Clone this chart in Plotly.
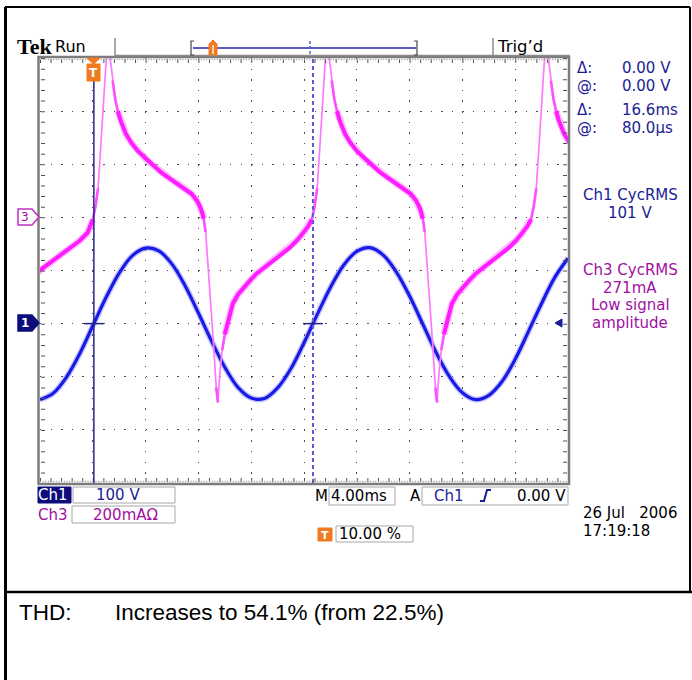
import plotly.graph_objects as go

W, H = 692, 680
X0, X1, Y0, Y1 = 40, 568, 58, 483          # graticule in pixels

def px(x):
    return x / W

def py(y):
    return 1 - y / H

# ---------------- data (read from the screen) ----------------
# time in ms (trigger = 0, 4 ms/div, 10 % pretrigger)
time_v = [-4, -3, -2, -1, 0, 1, 2, 3, 4, 5, 6, 7, 8, 9, 10, 11, 12, 13, 14, 15,
          16, 17, 18, 19, 20, 21, 22, 23, 24, 25, 26, 27, 28, 29, 30, 31, 32,
          33, 34, 35, 36]
# Ch1 voltage, volts (100 V/div)
ch1_volts = [-143, -131, -101, -57, -4, 49, 95, 128, 142, 137, 112, 71, 20, -33,
             -82, -120, -140, -141, -121, -85, -36, 17, 68, 110, 136, 143, 129,
             97, 52, -1, -54, -99, -130, -143, -135, -109, -67, -15, 38, 87, 123]

# Ch3 current, mA (200 mA/div)
time_c = [-4.2, -4.0, -3.0, -2.0, -1.0, -0.4,
          0.00, 0.20, 0.40, 0.60, 0.80, 1.00, 1.15, 1.30, 1.50, 1.70, 1.90, 2.10,
          2.50, 2.90, 3.40, 4.00, 4.60, 5.20, 5.80, 6.40, 7.00, 7.50, 7.90, 8.15,
          8.30, 8.40, 8.55, 8.75, 8.95, 9.15, 9.35, 9.48, 9.62, 9.80, 10.00, 10.20,
          10.60, 11.00, 11.40, 11.90, 12.40, 13.00, 13.60, 14.30, 14.90, 15.50,
          15.90, 16.30,
          16.60, 16.80, 17.00, 17.20, 17.40, 17.60, 17.75, 17.90, 18.10, 18.30,
          18.50, 18.70, 19.10, 19.50, 20.00, 20.60, 21.20, 21.80, 22.40, 23.00,
          23.60, 24.10, 24.50, 24.75, 24.90, 25.00, 25.15, 25.35, 25.55, 25.75,
          25.95, 26.08, 26.22, 26.40, 26.60, 26.80, 27.20, 27.60, 28.00, 28.50,
          29.00, 29.60, 30.20, 30.90, 31.50, 32.10, 32.50, 32.90,
          33.20, 33.40, 33.60, 33.80, 34.00, 34.20, 34.35, 34.50, 34.70, 34.90,
          35.10, 35.30, 35.70, 36.10]
ch3_ma = [-207, -200, -162, -125, -88, -58,
          -8, 40, 110, 265, 440, 590, 700, 605, 515, 445, 400, 365,
          315, 282, 250, 220, 195, 168, 148, 128, 108, 88, 62, 38,
          15, -5, -55, -190, -330, -480, -640, -697, -590, -500, -440, -398,
          -325, -290, -265, -238, -212, -188, -163, -138, -115, -85,
          -62, -35,
          -8, 40, 110, 265, 440, 590, 700, 605, 515, 445,
          400, 365, 315, 282, 250, 220, 195, 168, 148, 128,
          108, 88, 62, 38, 15, -5, -55, -190, -330, -480,
          -640, -697, -590, -500, -440, -398, -325, -290, -265, -238,
          -212, -188, -163, -138, -115, -85, -62, -35,
          -8, 40, 110, 265, 440, 590, 700, 605, 515, 445,
          400, 365, 315, 282]

T_RANGE = [-4, 36]
V_RANGE = [-300, 500]     # Ch1 ground one division below centre
I_RANGE = [-1000, 600]    # Ch3 ground one division above centre

cursor1_ms = 0.08
cursor2_ms = 16.68

# ---------------- figure ----------------
fig = go.Figure()

# thin (fast-edge) magenta trace everywhere
fig.add_trace(go.Scatter(x=time_c, y=ch3_ma, yaxis="y2", mode="lines",
                         line=dict(color="#ff78ff", width=1.7),
                         hoverinfo="skip", showlegend=False))

# thicker magenta where the trace moves slowly (intensity of the scope trace)
ms_px = (X1 - X0) / (T_RANGE[1] - T_RANGE[0])
ma_px = (Y1 - Y0) / (I_RANGE[1] - I_RANGE[0])

def slow_runs(lo, hi):
    runs, cur = [], []
    for i in range(len(time_c) - 1):
        s = abs((ch3_ma[i + 1] - ch3_ma[i]) * ma_px) / ((time_c[i + 1] - time_c[i]) * ms_px)
        if lo <= s < hi:
            if not cur:
                cur = [i]
            cur.append(i + 1)
        else:
            if cur:
                runs.append(cur)
            cur = []
    if cur:
        runs.append(cur)
    xs, ys = [], []
    for r in runs:
        xs += [time_c[k] for k in r] + [None]
        ys += [ch3_ma[k] for k in r] + [None]
    return xs, ys

mx, my = slow_runs(0, 9)
fig.add_trace(go.Scatter(x=mx, y=my, yaxis="y2", mode="lines",
                         line=dict(color="#ff50ff", width=2.6),
                         hoverinfo="skip", showlegend=False))
tx, ty = slow_runs(0, 4.5)
fig.add_trace(go.Scatter(x=tx, y=ty, yaxis="y2", mode="lines",
                         line=dict(color="rgba(255,120,255,0.45)", width=7),
                         hoverinfo="skip", showlegend=False))
fig.add_trace(go.Scatter(x=tx, y=ty, yaxis="y2", mode="lines",
                         line=dict(color="#ff1cff", width=4),
                         hoverinfo="skip", showlegend=False))

# Ch1 blue voltage
fig.add_trace(go.Scatter(x=time_v, y=ch1_volts, mode="lines",
                         line=dict(color="rgba(100,100,255,0.35)", width=6, shape="spline"),
                         hoverinfo="skip", showlegend=False))
fig.add_trace(go.Scatter(x=time_v, y=ch1_volts, mode="lines",
                         line=dict(color="#1a1ae6", width=3.2, shape="spline"),
                         hoverinfo="skip", showlegend=False))

shapes = []

def pline(x0, y0, x1, y1, color, width, dash="solid"):
    shapes.append(dict(type="line", xref="paper", yref="paper",
                       x0=px(x0), y0=py(y0), x1=px(x1), y1=py(y1),
                       line=dict(color=color, width=width, dash=dash)))

def prect(x0, y0, x1, y1, color, width=1, fill="rgba(0,0,0,0)"):
    shapes.append(dict(type="rect", xref="paper", yref="paper",
                       x0=px(x0), y0=py(y0), x1=px(x1), y1=py(y1),
                       line=dict(color=color, width=width), fillcolor=fill))

def ppath(pts, color, width=1, fill="rgba(0,0,0,0)"):
    d = "M " + " L ".join(f"{px(x):.5f},{py(y):.5f}" for x, y in pts) + " Z"
    shapes.append(dict(type="path", xref="paper", yref="paper", path=d,
                       line=dict(color=color, width=width), fillcolor=fill))

# page frame
pline(5.5, 7, 5.5, 680, "black", 3)
pline(5, 7, 690, 7, "black", 2)
pline(690, 7, 690, 592, "black", 2)
pline(5, 592, 692, 592, "black", 2.5)

# graticule border with ruler ticks
prect(X0 - 1.5, Y0 - 1, X1 + 1, Y1 + 1, "#7c7c7c", 2.5)
pline(X0 + 3, Y0, X0 + 3, Y1, "#505050", 4, "1px,9.625px")
pline(X1 - 3, Y0, X1 - 3, Y1, "#505050", 4, "1px,9.625px")
pline(X0, Y0 + 3, X1, Y0 + 3, "#505050", 4, "1px,9.56px")
pline(X0, Y1 - 3, X1, Y1 - 3, "#505050", 4, "1px,9.56px")
pline(X0, Y0 + 1.5, X1, Y0 + 1.5, "#9a9a9a", 1.5, "1px,1.64px")
pline(X0, Y1 - 1.5, X1, Y1 - 1.5, "#9a9a9a", 1.5, "1px,1.64px")

# header
pline(115, 38, 115, 56, "#8c8c8c", 1.5)
pline(493, 38, 493, 56, "#8c8c8c", 1.5)
pline(115, 55.5, X1 + 2, 55.5, "#8c8c8c", 1.5)
pline(193, 48, 416, 48, "#5b5bc0", 2)
ppath([(194, 41), (191, 41), (191, 55), (194, 55), (191, 55), (191, 41)], "#444444", 1.2)
ppath([(414, 41), (417, 41), (417, 55), (414, 55), (417, 55), (417, 41)], "#444444", 1.2)
pline(310, 41, 310, 56, "#5b5bc0", 1.5, "3px,2px")
ppath([(209, 44), (213, 40), (217, 44), (217, 55), (209, 55)], "#f07a1e", 1, "#f07a1e")
pline(213, 45, 213, 54, "white", 1.3)

# cursors (data coordinates)
shapes.append(dict(type="line", xref="x", yref="paper", x0=cursor1_ms, x1=cursor1_ms,
                   y0=py(Y1), y1=py(Y0), line=dict(color="#23238c", width=1.5)))
shapes.append(dict(type="line", xref="x", yref="paper", x0=cursor2_ms, x1=cursor2_ms,
                   y0=py(Y1), y1=py(Y0), line=dict(color="#5a5ad2", width=2, dash="4px,3px")))
for c in (cursor1_ms, cursor2_ms):
    shapes.append(dict(type="line", xref="x", yref="y", x0=c - 0.75, x1=c + 0.75,
                       y0=0, y1=0, line=dict(color="#23238c", width=1.5)))

# trigger position marker (top of graticule)
ppath([(87, 58), (100, 58), (93.5, 64)], "#f07a1e", 1, "#f07a1e")
prect(87, 64, 100, 81, "#f07a1e", 1, "#f07a1e")

# channel ground markers
ppath([(18, 209), (32, 209), (39, 217), (32, 225), (18, 225)], "#c030c0", 1.5, "white")
ppath([(18, 315), (32, 315), (39, 323), (32, 331), (18, 331)], "#0c0c7c", 1.5, "#0c0c7c")
# trigger level marker (right)
ppath([(555, 323), (562, 319), (562, 327)], "#1c1c94", 1, "#1c1c94")

# bottom boxes
prect(38, 487, 71, 503, "#0c0c7c", 1, "#0c0c7c")
prect(73, 487, 175, 503, "#a8a8a8", 1)
prect(72, 506, 175, 523, "#a8a8a8", 1)
prect(329, 487, 395, 505, "#a8a8a8", 1)
prect(422, 487, 568, 505, "#a8a8a8", 1)
prect(336, 526, 413, 542, "#a8a8a8", 1)
prect(318, 528, 332, 541, "#f07a1e", 1, "#f07a1e")
# rising-edge trigger slope icon
shapes.append(dict(type="path", xref="paper", yref="paper",
                   path="M {:.5f},{:.5f} L {:.5f},{:.5f} L {:.5f},{:.5f} L {:.5f},{:.5f}".format(
                       px(480), py(501), px(484), py(501), px(487), py(490), px(491), py(490)),
                   line=dict(color="#1c1c94", width=2)))

annotations = []

def txt(x, y, s, size=15, color="black", anchor="left", family="DejaVu Sans", bold=False):
    if bold:
        s = "<b>" + s + "</b>"
    annotations.append(dict(xref="paper", yref="paper", x=px(x), y=py(y), text=s,
                            showarrow=False, xanchor=anchor, yanchor="middle", borderpad=0,
                            font=dict(size=size, color=color, family=family)))

NAVY = "#1c1c94"
PURP = "#a010a0"
S = 15

txt(16, 47, "Tek", 22, "black", family="Liberation Serif", bold=True)
txt(54, 47, "Run", 16)
txt(496, 47, "Trig’d", 16.5)

txt(576, 68, "Δ:", S, NAVY)
txt(621, 68, "0.00 V", S, NAVY)
txt(576, 85.5, "@:", S, NAVY)
txt(621, 85.5, "0.00 V", S, NAVY)
txt(576, 110, "Δ:", S, NAVY)
txt(621, 110, "16.6ms", S, NAVY)
txt(576, 127.5, "@:", S, NAVY)
txt(621, 127.5, "80.0µs", S, NAVY)
txt(630, 195.5, "Ch1 CycRMS", S, NAVY, "center")
txt(630, 213, "101 V", S, NAVY, "center")
txt(630, 270, "Ch3 CycRMS", S, PURP, "center")
txt(630, 287.5, "271mA", S, PURP, "center")
txt(630, 305, "Low signal", S, PURP, "center")
txt(630, 322.5, "amplitude", S, PURP, "center")

txt(25, 217, "3", 12, PURP, "center")
txt(25, 323, "1", 12, "white", "center", bold=True)
txt(93.5, 73, "T", 12, "white", "center", bold=True)
txt(325, 535, "T", 11, "white", "center", bold=True)

txt(37, 495, "Ch1", S, "white")
txt(118, 495, "100 V", S, NAVY, "center")
txt(37, 515, "Ch3", S, PURP)
txt(125, 515, "200mAΩ", S, PURP, "center")
txt(314, 496, "M", S)
txt(330, 496, "4.00ms", S)
txt(409, 496, "A", S)
txt(433, 496, "Ch1", S, NAVY)
txt(567, 496, "0.00 V", S, "black", "right")
txt(338, 534, "10.00 %", S)
txt(582, 513, "26 Jul   2006", S)
txt(582, 530.5, "17:19:18", S)

txt(18, 612, "THD:", 22.5, "black", family="Liberation Sans")
txt(114, 612, "Increases to 54.1% (from 22.5%)", 22.5, "black", family="Liberation Sans")

fig.update_layout(
    width=W, height=H,
    margin=dict(l=0, r=0, t=0, b=0),
    paper_bgcolor="white",
    plot_bgcolor="rgba(0,0,0,0)",
    showlegend=False,
    xaxis=dict(domain=[px(X0), px(X1)], range=T_RANGE, tick0=-4, dtick=4,
               showgrid=True, gridcolor="#4a4a4a", gridwidth=1.4,
               griddash="1.4px,9.22px", zeroline=False, showline=False,
               showticklabels=False, ticks="", fixedrange=True),
    yaxis=dict(domain=[py(Y1), py(Y0)], range=V_RANGE, tick0=-300, dtick=100,
               showgrid=True, gridcolor="#4a4a4a", gridwidth=1.4,
               griddash="1.4px,9.16px", zeroline=False, showline=False,
               showticklabels=False, ticks="", fixedrange=True),
    yaxis2=dict(overlaying="y", range=I_RANGE, visible=False, fixedrange=True),
    shapes=shapes,
    annotations=annotations,
)

fig.write_html("out.html")
